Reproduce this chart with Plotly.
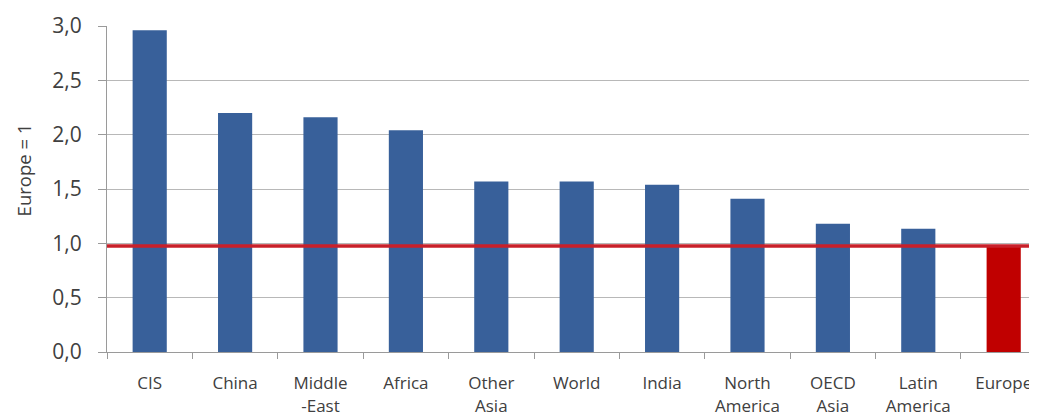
import plotly.graph_objects as go

categories = ["CIS", "China", "Middle<br>-East", "Africa", "Other<br>Asia", "World",
              "India", "North<br>America", "OECD<br>Asia", "Latin<br>America", "Europe"]
values = [2.96, 2.20, 2.16, 2.04, 1.57, 1.57, 1.54, 1.41, 1.18, 1.135, 0.98]
bar_colors = ["#38609A"] * 10 + ["#C00000"]
europe_level = 0.975
y_ticks = [0.0, 0.5, 1.0, 1.5, 2.0, 2.5, 3.0]
y_title = "Europe = 1"

fig = go.Figure()
fig.add_trace(go.Bar(x=categories, y=values, marker=dict(color=bar_colors, line=dict(width=0)),
                     width=0.4, showlegend=False))
fig.add_shape(type="line", xref="paper", yref="y", x0=0, x1=1, y0=europe_level, y1=europe_level,
              line=dict(color="#C8202A", width=3.5), layer="above")

font = "Open Sans, DejaVu Sans, sans-serif"
fig.add_annotation(text=y_title, xref="paper", yref="paper", x=-0.09, y=0.558,
                   textangle=-90, showarrow=False, xanchor="center", yanchor="middle",
                   font=dict(size=18.5, color="#404040", family=font))
fig.update_layout(
    width=1029, height=410,
    margin=dict(l=99, r=0, t=18, b=66),
    paper_bgcolor="white", plot_bgcolor="white",
    separators=",.",
    font=dict(family=font, color="#404040"),
)
fig.update_xaxes(
    type="category", range=[-0.5, 10.39],
    showline=True, linecolor="#9a9a9a", linewidth=1,
    ticks="outside", tickson="boundaries", ticklen=6, tickcolor="#9a9a9a",
    tickfont=dict(size=17, color="#404040", family=font),
    ticklabelstandoff=16,
    showgrid=False,
)
fig.update_yaxes(
    range=[0, 3.0], tickvals=y_ticks, tickformat=".1f",
    showline=True, linecolor="#9a9a9a", linewidth=1,
    ticks="outside", ticklen=8, tickcolor="#9a9a9a",
    gridcolor="#b8b8b8", gridwidth=1,
    tickfont=dict(size=21, color="#404040", family=font),
    ticklabelstandoff=12,
    zeroline=False,
)
fig.write_html("out.html")
